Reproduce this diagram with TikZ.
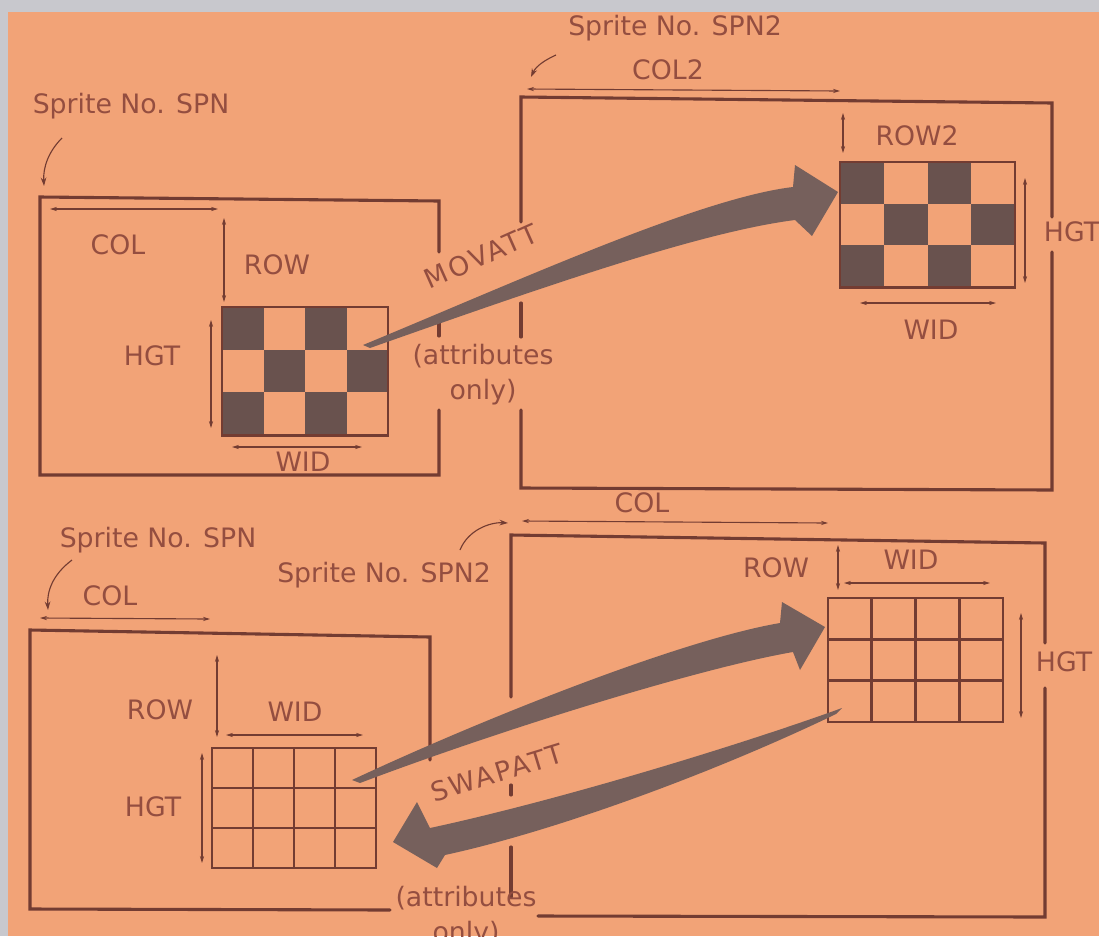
\documentclass[tikz,border=0pt]{standalone}
\usepackage{fontspec}
\setmainfont{DejaVu Sans}
\usetikzlibrary{arrows.meta,positioning}
\definecolor{spbg}{RGB}{242,163,119}
\definecolor{spline}{RGB}{115,60,50}
\definecolor{sptext}{RGB}{148,78,64}
\definecolor{spdark}{RGB}{105,82,78}
\definecolor{sparrow}{RGB}{118,96,92}
\definecolor{spframe}{RGB}{200,200,205}
\tikzset{
  boxline/.style={line width=2.2pt, spline, line cap=round},
  dimline/.style={line width=0.8pt, spline,
    {Stealth[length=5pt,width=3pt]}-{Stealth[length=5pt,width=3pt]}},
  ptrline/.style={line width=0.8pt, spline, -{Stealth[length=6pt,width=4pt]}},
  lbl/.style={font=\fontsize{19}{25}\selectfont, text=sptext, inner sep=0pt},
  cmdlbl/.style={lbl, font=\fontsize{19}{25}\selectfont\addfontfeature{LetterSpace=9}},
  gridline/.style={line width=2pt, spline},
  fatarrow/.style={fill=sparrow, draw=none}
}
% checker pattern 4x3: x0, y0, cell width, cell height
\newcommand\checkgrid[4]{%
  \foreach \i in {0,...,3}
    \foreach \j in {0,...,2}{
      \pgfmathtruncatemacro\sq{mod(\i+\j,2)}
      \ifnum\sq=0 \fill[spdark] ({#1+\i*#3},{#2+\j*#4}) rectangle ++(#3,#4);\fi
    }
  \draw[gridline] (#1,#2) rectangle ++({4*#3},{3*#4});
}
% empty 4x3 grid
\newcommand\opengrid[4]{%
  \foreach \i in {1,2,3}
    \draw[gridline] ({#1+\i*#3},#2) -- ++(0,{3*#4});
  \foreach \j in {1,2}
    \draw[gridline] (#1,{#2+\j*#4}) -- ++({4*#3},0);
  \draw[gridline] (#1,#2) rectangle ++({4*#3},{3*#4});
}
\begin{document}
\begin{tikzpicture}[x=0.025cm, y=-0.025cm]
  \useasboundingbox (0,0) rectangle (1099,936);
  \fill[spframe] (0,0) rectangle (1099,936);
  \fill[spbg] (8,12) rectangle (1099,936);

  % ---------- MOVATT: sprite boxes ----------
  \draw[boxline] (439,252) -- (439,201) -- (40,197) -- (40,475) -- (439,475) -- (439,410);
  \draw[boxline] (439,320) -- (439,336);
  \draw[boxline] (521,222) -- (521,97) -- (1052,103) -- (1052,217);
  \draw[boxline] (1052,252) -- (1052,490) -- (521,488) -- (521,410);
  \draw[boxline] (521,303) -- (521,337);

  \node[lbl] (spnA) at (131,106) {Sprite No. SPN};
  \draw[ptrline] (62,138) .. controls (48,152) and (43,168) .. (44,186);
  \node[lbl] (spntwoA) at (675,28) {Sprite No. SPN2};
  \draw[ptrline] (556,55) .. controls (545,60) and (536,66) .. (531,77);

  % source sprite
  \checkgrid{222}{307}{41.5}{42.7}
  \draw[dimline] (50,209) -- (218,209);
  \node[lbl] (colA) at (118,245) {COL};
  \draw[dimline] (224,218) -- (224,302);
  \node[lbl] (rowA) at (277,265) {ROW};
  \draw[dimline] (211,320) -- (211,428);
  \node[lbl] (hgtA) at (152,356) {HGT};
  \draw[dimline] (232,447) -- (362,447);
  \node[lbl] (widA) at (303,462) {WID};

  % destination sprite
  \checkgrid{840}{162}{43.75}{41.7}
  \draw[dimline] (527,89) -- (840,91);
  \node[lbl] (coltwoA) at (668,70) {COL2};
  \draw[dimline] (843,113) -- (843,153);
  \node[lbl] (rowtwoA) at (917,136) {ROW2};
  \draw[dimline] (1025,178) -- (1025,283);
  \node[lbl] (hgtB) at (1072,232) {HGT};
  \draw[dimline] (860,303) -- (996,303);
  \node[lbl] (widB) at (931,330) {WID};

  % MOVATT arrow
  \fill[fatarrow] (363,345) .. controls (520,280) and (700,198) .. (793,187)
    -- (795,165) -- (838,192) -- (812,236) -- (795,220)
    .. controls (700,232) and (540,288) .. (370,348) -- cycle;
  \node[cmdlbl, rotate=24] (movatt) at (481,256) {MOVATT};
  \node[lbl, align=center] (attrA) at (483,375) {(attributes\\only)};

  % ---------- SWAPATT: sprite boxes ----------
  \draw[boxline] (430,760) -- (430,637) -- (30,630) -- (30,909) -- (390,910);
  \draw[boxline] (511,697) -- (511,535) -- (1045,543) -- (1045,643);
  \draw[boxline] (1045,688) -- (1045,917) -- (538,916);
  \draw[boxline] (511,785) -- (511,795);
  \draw[boxline] (511,847) -- (511,897);

  \node[lbl] (spnB) at (158,540) {Sprite No. SPN};
  \draw[ptrline] (72,560) .. controls (52,575) and (47,592) .. (48,610);
  \node[lbl] (spntwoB) at (384,575) {Sprite No. SPN2};
  \draw[ptrline] (460,550) .. controls (468,530) and (490,522) .. (508,523);

  % first sprite
  \opengrid{212}{748}{41}{40}
  \draw[dimline] (40,618) -- (210,619);
  \node[lbl] (colB) at (110,596) {COL};
  \draw[dimline] (217,655) -- (217,737);
  \node[lbl] (rowB) at (160,710) {ROW};
  \draw[dimline] (226,735) -- (363,735);
  \node[lbl] (widC) at (295,712) {WID};
  \draw[dimline] (202,753) -- (202,863);
  \node[lbl] (hgtC) at (153,807) {HGT};

  % second sprite
  \opengrid{828}{598}{43.75}{41.3}
  \draw[dimline] (522,521) -- (828,523);
  \node[lbl] (colC) at (642,503) {COL};
  \draw[dimline] (838,545) -- (838,590);
  \node[lbl] (rowC) at (776,568) {ROW};
  \draw[dimline] (844,583) -- (990,583);
  \node[lbl] (widD) at (911,560) {WID};
  \draw[dimline] (1021,613) -- (1021,718);
  \node[lbl] (hgtD) at (1064,662) {HGT};

  % SWAPATT arrows
  \fill[fatarrow] (352,780) .. controls (480,720) and (680,640) .. (780,623)
    -- (782,602) -- (825,627) -- (800,670) -- (793,652)
    .. controls (700,668) and (500,730) .. (360,783) -- cycle;
  \fill[fatarrow] (842,708) .. controls (740,745) and (560,800) .. (430,828)
    -- (417,802) -- (393,842) -- (437,868) -- (445,855)
    .. controls (560,830) and (720,770) .. (836,714) -- cycle;
  \node[cmdlbl, rotate=17] (swapatt) at (497,773) {SWAPATT};
  \node[lbl, align=center] (attrB) at (466,917) {(attributes\\only)};
\end{tikzpicture}
\end{document}
